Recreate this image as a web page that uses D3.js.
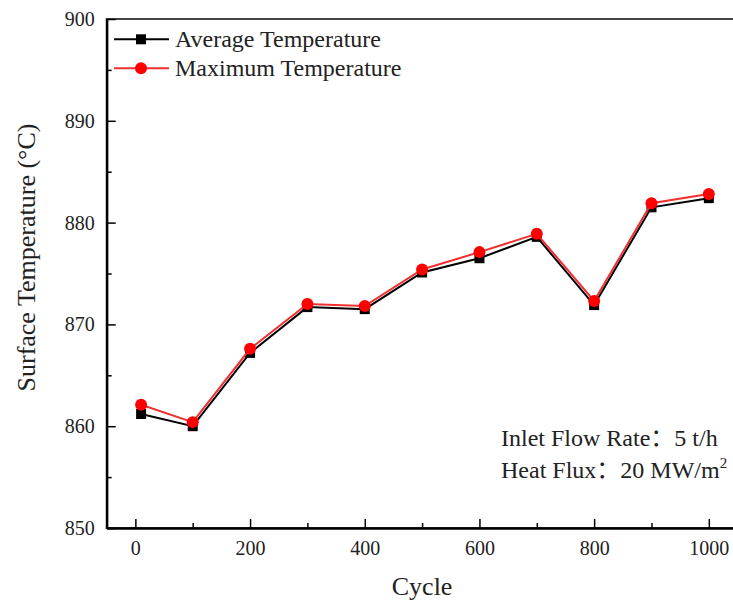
<!DOCTYPE html>
<html>
<head>
<meta charset="utf-8">
<script src="https://cdn.jsdelivr.net/npm/d3@7"></script>
<style>
  body { margin: 0; background: #fff; }
  svg text { font-family: "Liberation Serif", "Times New Roman", serif; }
</style>
</head>
<body>
<div id="chart"></div>
<script>
// datos
const cycles = [10, 100, 200, 300, 400, 500, 600, 700, 800, 900, 1000];
const avgTemp = [861.2, 860.0, 867.2, 871.7, 871.5, 875.1, 876.5, 878.6, 871.9, 881.5, 882.4];
const maxTemp = [862.1, 860.4, 867.6, 872.0, 871.8, 875.4, 877.1, 878.9, 872.3, 881.9, 882.8];
const xTicks = [0, 200, 400, 600, 800, 1000];
const yTicks = [850, 860, 870, 880, 890, 900];

const W = 733, H = 601;
const plotLeft = 106.7, plotTop = 19, plotBottom = 528, plotRight = 737.5;

const svg = d3.select("#chart").append("svg")
  .attr("width", W)
  .attr("height", H);

const x = d3.scaleLinear().domain([-50, 1050]).range([plotLeft, plotRight]);
const y = d3.scaleLinear().domain([850, 900]).range([plotBottom, plotTop]);

// marco
svg.append("rect")
  .attr("x", plotLeft).attr("y", plotTop)
  .attr("width", plotRight - plotLeft).attr("height", plotBottom - plotTop)
  .attr("fill", "none")
  .attr("stroke", "#444")
  .attr("stroke-width", 2);

// ejes
svg.append("g")
  .attr("transform", `translate(0,${plotBottom})`)
  .call(d3.axisBottom(x).tickValues(xTicks).tickFormat(d3.format("d"))
    .tickSize(-9).tickPadding(13).tickSizeOuter(0));
svg.append("g")
  .attr("transform", `translate(0,${plotBottom})`)
  .call(d3.axisBottom(x).tickValues(d3.range(100, 1001, 200)).tickSize(-5).tickFormat("").tickSizeOuter(0));

svg.append("g")
  .attr("transform", `translate(${plotLeft},0)`)
  .call(d3.axisLeft(y).tickValues(yTicks).tickSize(-9).tickPadding(12).tickSizeOuter(0));
svg.append("g")
  .attr("transform", `translate(${plotLeft},0)`)
  .call(d3.axisLeft(y).tickValues(d3.range(855, 900, 10)).tickSize(-5).tickFormat("").tickSizeOuter(0));

svg.selectAll(".domain").attr("stroke", "#000").attr("stroke-width", 2);
svg.selectAll(".tick line").attr("stroke", "#000").attr("stroke-width", 1.5);
svg.selectAll(".tick text").attr("font-size", 20).attr("fill", "#222")
  .attr("font-family", "Liberation Serif, serif");

// títulos de ejes
svg.append("text")
  .attr("x", x(500)).attr("y", 595)
  .attr("text-anchor", "middle")
  .attr("font-size", 26)
  .attr("fill", "#222")
  .text("Cycle");

svg.append("text")
  .attr("transform", "translate(35,257.5) rotate(-90)")
  .attr("text-anchor", "middle")
  .attr("font-size", 26)
  .attr("fill", "#222")
  .text("Surface Temperature (°C)");

// series
const line = d3.line().x((d, i) => x(cycles[i])).y(d => y(d));

svg.append("path")
  .datum(avgTemp)
  .attr("fill", "none")
  .attr("stroke", "#000")
  .attr("stroke-width", 2)
  .attr("d", line);

svg.selectAll(".sq")
  .data(avgTemp)
  .enter().append("rect")
  .attr("x", (d, i) => x(cycles[i]) - 5)
  .attr("y", d => y(d) - 5)
  .attr("width", 10).attr("height", 10)
  .attr("fill", "#000");

svg.append("path")
  .datum(maxTemp)
  .attr("fill", "none")
  .attr("stroke", "#f03030")
  .attr("stroke-width", 2)
  .attr("d", line);

svg.selectAll(".dot")
  .data(maxTemp)
  .enter().append("circle")
  .attr("cx", (d, i) => x(cycles[i]))
  .attr("cy", d => y(d))
  .attr("r", 6)
  .attr("fill", "#ff0000");

// leyenda
const legend = [
  { label: "Average Temperature", color: "#000", shape: "square", yy: 39.3 },
  { label: "Maximum Temperature", color: "#f03030", shape: "circle", yy: 68.3 }
];
legend.forEach(l => {
  svg.append("line")
    .attr("x1", 114).attr("x2", 169)
    .attr("y1", l.yy).attr("y2", l.yy)
    .attr("stroke", l.color).attr("stroke-width", 2);
  if (l.shape === "square") {
    svg.append("rect").attr("x", 136).attr("y", l.yy - 5)
      .attr("width", 10).attr("height", 10).attr("fill", "#000");
  } else {
    svg.append("circle").attr("cx", 141).attr("cy", l.yy).attr("r", 6).attr("fill", "#ff0000");
  }
  svg.append("text")
    .attr("x", 175).attr("y", l.yy + 7.5)
    .attr("font-size", 24)
    .attr("fill", "#222")
    .text(l.label);
});

// anotación
const t1 = svg.append("text")
  .attr("x", 501).attr("y", 446)
  .attr("font-size", 24)
  .attr("fill", "#222");
t1.append("tspan").text("Inlet Flow Rate");
t1.append("tspan").attr("font-family", "Noto Sans CJK SC").text("：");
t1.append("tspan").text("5 t/h");

const t2 = svg.append("text")
  .attr("x", 501).attr("y", 478)
  .attr("font-size", 24)
  .attr("fill", "#222");
t2.append("tspan").text("Heat Flux");
t2.append("tspan").attr("font-family", "Noto Sans CJK SC").text("：");
t2.append("tspan").text("20 MW/m");
t2.append("tspan").attr("font-size", 15).attr("dy", -10).text("2");
</script>
</body>
</html>
